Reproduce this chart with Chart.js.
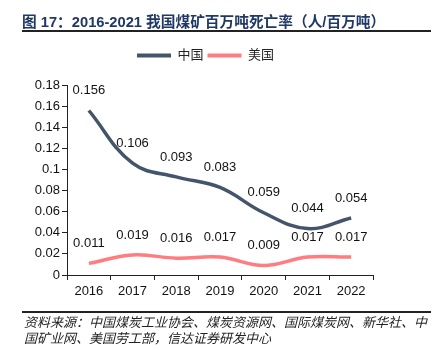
<!DOCTYPE html>
<html>
<head>
<meta charset="utf-8">
<script src="https://cdn.jsdelivr.net/npm/chart.js@4"></script>
<style>
  html, body { margin: 0; padding: 0; background: #fff; }
  #wrap { position: relative; width: 436px; height: 350px; overflow: hidden; }
  #c { position: absolute; left: 0; top: 0; }
  .title { position: absolute; left: 22px; top: 10px; font-family: "Liberation Sans", Arial, "Noto Sans CJK SC", sans-serif; font-weight: bold; font-size: 14.7px; color: #1f3864; white-space: nowrap; }
  .rule1 { position: absolute; left: 22px; top: 30px; width: 409px; height: 2px; background: #222; }
  .rule2 { position: absolute; left: 22px; top: 311px; width: 409px; height: 1.5px; background: #222; }
  .src { position: absolute; left: 24px; top: 314px; font-family: "Noto Sans CJK SC", sans-serif; font-style: italic; font-size: 13px; line-height: 16px; color: #222; white-space: nowrap; }
</style>
</head>
<body>
<div id="wrap">
  <canvas id="c" width="436" height="350"></canvas>
  <div class="title">图 17：2016-2021 我国煤矿百万吨死亡率（人/百万吨）</div>
  <div class="rule1"></div>
  <div class="rule2"></div>
  <div class="src">资料来源：中国煤炭工业协会、煤炭资源网、国际煤炭网、新华社、中<br>国矿业网、美国劳工部，信达证券研发中心</div>
</div>
<script>
const categories = ["2016", "2017", "2018", "2019", "2020", "2021", "2022"];
const chinaValues = [0.156, 0.106, 0.093, 0.083, 0.059, 0.044, 0.054];
const usValues = [0.011, 0.019, 0.016, 0.017, 0.009, 0.017, 0.017];
const chinaLabels = ["0.156", "0.106", "0.093", "0.083", "0.059", "0.044", "0.054"];
const usLabels = ["0.011", "0.019", "0.016", "0.017", "0.009", "0.017", "0.017"];
const seriesNames = ["中国", "美国"];
const yTickValues = [0, 0.02, 0.04, 0.06, 0.08, 0.1, 0.12, 0.14, 0.16, 0.18];
const yTickLabels = ["0", "0.02", "0.04", "0.06", "0.08", "0.1", "0.12", "0.14", "0.16", "0.18"];

const FONT = '"Liberation Sans", Arial, "Noto Sans CJK SC", sans-serif';
const labelSets = [chinaLabels, usLabels];

const valueLabels = {
  id: 'valueLabels',
  afterDatasetsDraw(chart) {
    const ctx = chart.ctx;
    ctx.save();
    ctx.font = '13px ' + FONT;
    ctx.fillStyle = '#111';
    ctx.textAlign = 'center';
    ctx.textBaseline = 'middle';
    chart.data.datasets.forEach((ds, di) => {
      const meta = chart.getDatasetMeta(di);
      meta.data.forEach((el, i) => {
        ctx.fillText(labelSets[di][i], el.x, el.y - 20);
      });
    });
    ctx.restore();
  }
};

const legendShift = {
  id: 'legendShift',
  afterLayout(chart) {
    if (chart.legend) {
      chart.legend.left += 19;
      chart.legend.right += 19;
    }
  }
};

new Chart(document.getElementById('c'), {
  type: 'line',
  data: {
    labels: categories,
    datasets: [
      { label: seriesNames[0], data: chinaValues, borderColor: '#44546a', backgroundColor: '#44546a', borderWidth: 3.5, pointRadius: 0, tension: 0.4, fill: false },
      { label: seriesNames[1], data: usValues, borderColor: '#ff7c80', backgroundColor: '#ff7c80', borderWidth: 3.5, pointRadius: 0, tension: 0.4, fill: false }
    ]
  },
  options: {
    responsive: false,
    animation: false,
    layout: { padding: { left: 0, right: 63, top: 45, bottom: 0 } },
    plugins: {
      legend: {
        position: 'top',
        weight: 1000,
        labels: {
          font: { size: 13, family: FONT },
          color: '#222',
          boxWidth: 34,
          boxHeight: 4,
          padding: 4,
          generateLabels(chart) {
            return chart.data.datasets.map((ds, i) => ({
              text: ds.label, fillStyle: ds.borderColor, strokeStyle: ds.borderColor,
              lineWidth: 0, hidden: false, datasetIndex: i, fontColor: '#222'
            }));
          }
        }
      },
      subtitle: {
        display: true,
        text: ' ',
        position: 'top',
        weight: 500,
        font: { size: 1 },
        padding: { top: 0, bottom: 12 }
      },
      tooltip: { enabled: false },
      title: { display: false }
    },
    scales: {
      x: {
        offset: true,
        grid: { display: true, drawOnChartArea: false, drawTicks: true, tickLength: 5, color: '#222', offset: true },
        border: { display: true, color: '#222', width: 1 },
        ticks: { font: { size: 13, family: FONT }, color: '#111', padding: 4 },
        afterFit(scale) { scale.height = 75; }
      },
      y: {
        min: 0, max: 0.18,
        afterBuildTicks(scale) { scale.ticks = yTickValues.map(v => ({ value: v })); },
        grid: { display: true, drawOnChartArea: false, drawTicks: true, tickLength: 5, color: '#222' },
        border: { display: true, color: '#222', width: 1 },
        ticks: {
          font: { size: 13, family: FONT }, color: '#111', padding: 2,
          callback(value) { const i = yTickValues.findIndex(v => Math.abs(v - value) < 1e-9); return i >= 0 ? yTickLabels[i] : ''; }
        },
        afterFit(scale) { scale.width = 67; }
      }
    }
  },
  plugins: [valueLabels, legendShift]
});
</script>
</body>
</html>
